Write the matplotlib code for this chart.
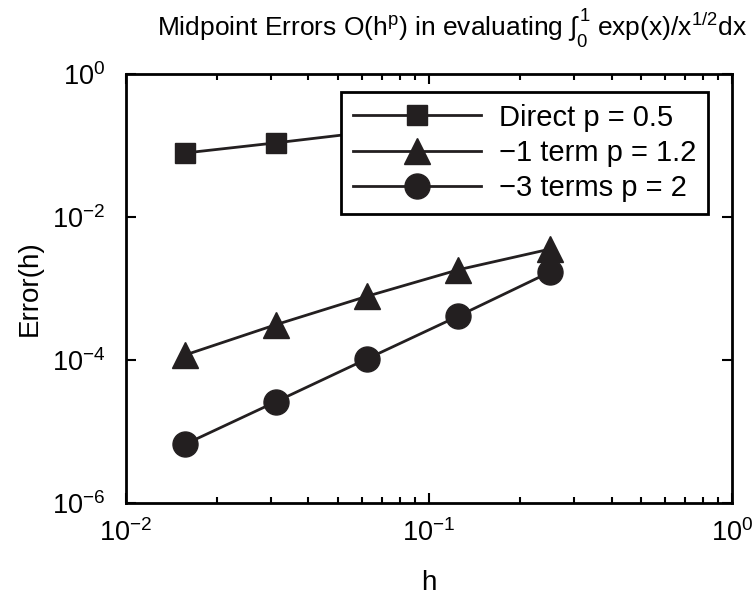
import numpy as np
import matplotlib
matplotlib.use('Agg')
import matplotlib.pyplot as plt
from matplotlib.ticker import LogLocator, NullFormatter

plt.rcParams['font.family'] = ['Liberation Sans', 'DejaVu Sans']
plt.rcParams['mathtext.fontset'] = 'custom'
plt.rcParams['mathtext.rm'] = 'Liberation Sans'
plt.rcParams['mathtext.it'] = 'Liberation Sans'
plt.rcParams['mathtext.bf'] = 'Liberation Sans:bold'

# step sizes and midpoint errors
h = [1/64, 1/32, 1/16, 1/8, 1/4]
err_direct = [0.0785, 0.109, 0.154, 0.218, 0.308]
err_1term = [1.17e-4, 3.12e-4, 7.8e-4, 1.83e-3, 3.55e-3]
err_3terms = [6.6e-6, 2.61e-5, 1.04e-4, 4.12e-4, 1.69e-3]
labels = ['Direct p = 0.5', '\u22121 term p = 1.2', '\u22123 terms p = 2']

col = '#231f20'

fig = plt.figure(figsize=(7.54, 5.95), dpi=100)
ax = fig.add_axes([0.167, 0.1546, 0.804, 0.721])

ax.loglog(h, err_direct, '-', marker='s', ms=14, lw=2, color=col, label=labels[0])
ax.loglog(h, err_1term, '-', marker='^', ms=19, lw=2, color=col, label=labels[1])
ax.loglog(h, err_3terms, '-', marker='o', ms=18, lw=2, color=col, label=labels[2])

ax.set_xlim(1e-2, 1e0)
ax.set_ylim(1e-6, 1e0)
ax.set_xticks([1e-2, 1e-1, 1e0])
ax.set_yticks([1e-6, 1e-4, 1e-2, 1e0])
ax.xaxis.set_minor_locator(LogLocator(base=10, subs=np.arange(2, 10)))
ax.xaxis.set_minor_formatter(NullFormatter())
ax.yaxis.set_minor_locator(plt.NullLocator())
ax.tick_params(which='both', direction='in', top=True, right=True, width=1.5, labelsize=19.5)
ax.tick_params(axis='x', pad=12)
ax.tick_params(axis='y', pad=15)
ax.tick_params(which='major', length=7)
ax.tick_params(which='minor', length=4)
for s in ax.spines.values():
    s.set_linewidth(2)

ax.set_xlabel('h', fontsize=20)
ax.set_ylabel('Error(h)', fontsize=20)
ax.xaxis.set_label_coords(0.5, -0.155)
ax.yaxis.set_label_coords(-0.137, 0.5)
fig.text(0.599, 0.94, r'Midpoint Errors O(h$^\mathrm{p}$) in evaluating $\int_0^1$ exp(x)/x$^{1/2}$dx',
         fontsize=19, ha='center', va='baseline')

leg = ax.legend(loc='upper right', bbox_to_anchor=(0.960, 0.958), borderaxespad=0,
                fontsize=21, handlelength=4.4, handletextpad=0.6, borderpad=0.4,
                fancybox=False, framealpha=1, edgecolor='k', labelspacing=0.25)
leg.get_frame().set_linewidth(2)

fig.savefig('out.png', dpi=100)
